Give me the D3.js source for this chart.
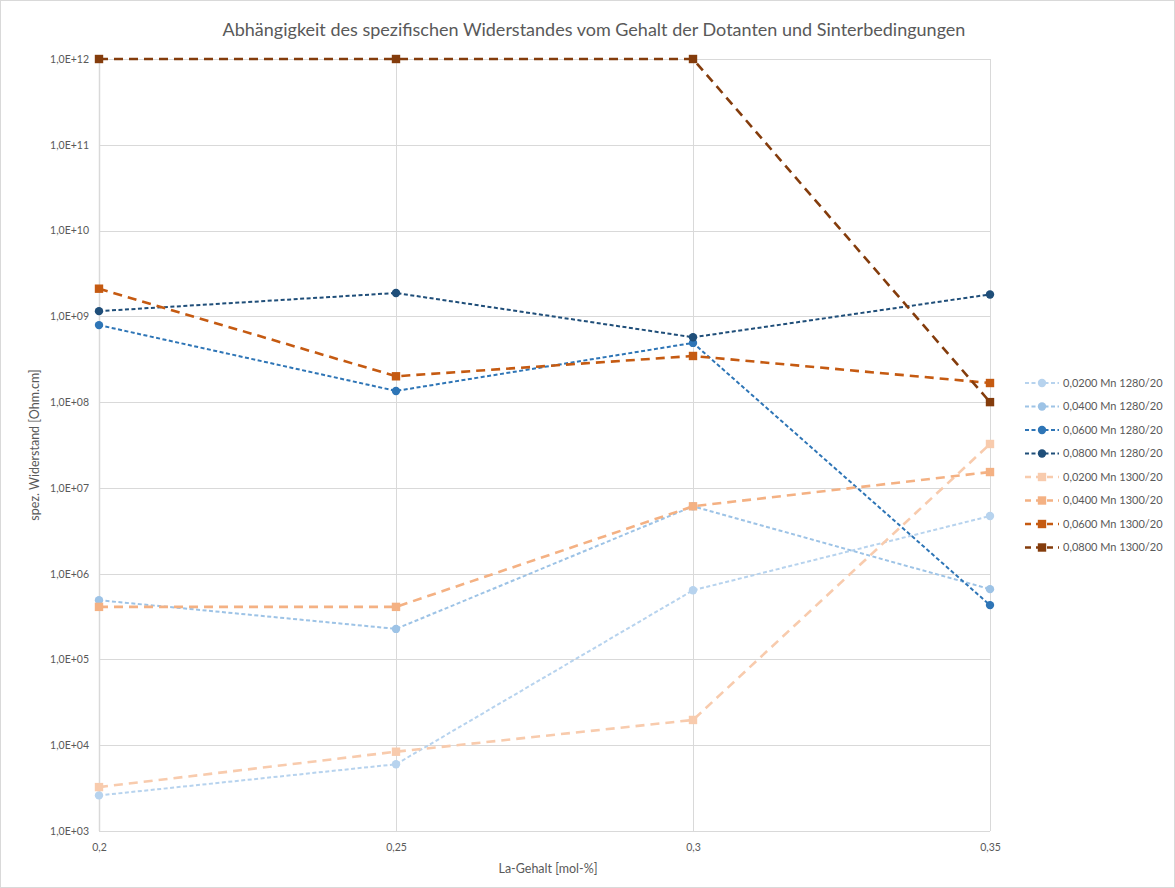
<!DOCTYPE html>
<html>
<head>
<meta charset="utf-8">
<script src="https://cdn.jsdelivr.net/npm/d3@7"></script>
<style>
  html, body { margin: 0; padding: 0; background: #fff; }
  svg { display: block; font-family: Lato, "Open Sans", sans-serif; }
</style>
</head>
<body>
<svg id="chart" width="1175" height="888"></svg>
<script>
// La content (mol-%) on the x axis
const laContent = [0.2, 0.25, 0.3, 0.35];
const xTickLabels = ["0,2", "0,25", "0,3", "0,35"];
const yTickValues = [1e3, 1e4, 1e5, 1e6, 1e7, 1e8, 1e9, 1e10, 1e11, 1e12];
const yTickLabels = ["1,0E+03", "1,0E+04", "1,0E+05", "1,0E+06", "1,0E+07", "1,0E+08", "1,0E+09", "1,0E+10", "1,0E+11", "1,0E+12"];

// specific resistance [Ohm.cm] per series
const mn0200_1280 = [2.6e3, 6.0e3, 6.4e5, 4.7e6];
const mn0400_1280 = [4.9e5, 2.27e5, 6.1e6, 6.6e5];
const mn0600_1280 = [7.9e8, 1.35e8, 4.9e8, 4.3e5];
const mn0800_1280 = [1.15e9, 1.87e9, 5.7e8, 1.8e9];
const mn0200_1300 = [3.25e3, 8.4e3, 1.97e4, 3.25e7];
const mn0400_1300 = [4.1e5, 4.1e5, 6.1e6, 1.53e7];
const mn0600_1300 = [2.1e9, 2.0e8, 3.45e8, 1.67e8];
const mn0800_1300 = [1e12, 1e12, 1e12, 1e8];

const seriesNames = [
  "0,0200 Mn 1280/20", "0,0400 Mn 1280/20", "0,0600 Mn 1280/20", "0,0800 Mn 1280/20",
  "0,0200 Mn 1300/20", "0,0400 Mn 1300/20", "0,0600 Mn 1300/20", "0,0800 Mn 1300/20"
];
const seriesValues = [mn0200_1280, mn0400_1280, mn0600_1280, mn0800_1280,
                      mn0200_1300, mn0400_1300, mn0600_1300, mn0800_1300];
const seriesColors = ["#b7d3ee", "#9dc3e6", "#2e75b6", "#1f4e79",
                      "#f8cbad", "#f4b183", "#c55a11", "#843c0c"];

const series = seriesNames.map((name, i) => ({
  name,
  values: seriesValues[i],
  color: seriesColors[i],
  kind: name.endsWith("1280/20") ? "circle" : "square"
}));

const svg = d3.select("#chart");
const W = 1175, H = 888;
const plot = { left: 99, right: 990, top: 59, bottom: 831 };

// outer chart frame
svg.append("rect")
  .attr("x", 0.5).attr("y", 0.5).attr("width", W - 1).attr("height", H - 1)
  .attr("fill", "#fff").attr("stroke", "#d9d9d9").attr("stroke-width", 1);

const x = d3.scaleLinear().domain([0.2, 0.35]).range([plot.left, plot.right]);
const y = d3.scaleLog().domain([1e3, 1e12]).range([plot.bottom, plot.top]);

// horizontal gridlines
svg.append("g")
  .selectAll("line").data(yTickValues).join("line")
  .attr("x1", plot.left).attr("x2", plot.right)
  .attr("y1", d => Math.round(y(d)) + 0.5).attr("y2", d => Math.round(y(d)) + 0.5)
  .attr("stroke", "#d9d9d9").attr("stroke-width", 1);

// vertical gridlines
svg.append("g")
  .selectAll("line").data(laContent).join("line")
  .attr("x1", d => Math.round(x(d)) + 0.5).attr("x2", d => Math.round(x(d)) + 0.5)
  .attr("y1", plot.top).attr("y2", plot.bottom)
  .attr("stroke", "#d9d9d9").attr("stroke-width", d => d === 0.2 ? 1.5 : 1);

// y axis labels
const yAxis = d3.axisLeft(y).tickValues(yTickValues)
  .tickFormat((d, i) => yTickLabels[i]).tickSize(0).tickPadding(10);
const gy = svg.append("g").attr("transform", `translate(${plot.left},0)`).call(yAxis);
gy.select(".domain").remove();
gy.selectAll("text").attr("fill", "#595959").style("font-size", "10.5px")
  .style("font-family", "Lato, sans-serif");

// x axis labels
const xAxis = d3.axisBottom(x).tickValues(laContent)
  .tickFormat((d, i) => xTickLabels[i]).tickSize(0).tickPadding(13);
const gx = svg.append("g").attr("transform", `translate(0,${plot.bottom})`).call(xAxis);
gx.select(".domain").remove();
gx.selectAll("text").attr("fill", "#595959").style("font-size", "10.5px")
  .style("font-family", "Lato, sans-serif");

// title and axis titles
svg.append("text")
  .attr("x", 594).attr("y", 36).attr("text-anchor", "middle")
  .attr("fill", "#595959").style("font-size", "18px")
  .text("Abhängigkeit des spezifischen Widerstandes vom Gehalt der Dotanten und Sinterbedingungen");

svg.append("text")
  .attr("x", 548).attr("y", 873).attr("text-anchor", "middle")
  .attr("fill", "#595959").style("font-size", "12.5px")
  .text("La-Gehalt [mol-%]");

svg.append("text")
  .attr("transform", "translate(39,445) rotate(-90)")
  .attr("text-anchor", "middle")
  .attr("fill", "#595959").style("font-size", "12.5px")
  .text("spez. Widerstand [Ohm.cm]");

const line = d3.line().x(d => x(d[0])).y(d => y(d[1]));

function dashFor(s) { return s.kind === "circle" ? "4,2.5" : "9,6"; }
function widthFor(s) { return s.kind === "circle" ? 2 : 2.6; }

function drawMarker(g, s, cx, cy) {
  if (s.kind === "circle") {
    g.append("circle").attr("cx", cx).attr("cy", cy).attr("r", 4.2).attr("fill", s.color);
  } else {
    g.append("rect").attr("x", cx - 4.2).attr("y", cy - 4.2)
      .attr("width", 8.4).attr("height", 8.4).attr("fill", s.color);
  }
}

// series lines and markers
const gs = svg.append("g");
series.forEach(s => {
  const pts = laContent.map((v, i) => [v, s.values[i]]);
  gs.append("path").datum(pts).attr("d", line)
    .attr("fill", "none").attr("stroke", s.color)
    .attr("stroke-width", widthFor(s)).attr("stroke-dasharray", dashFor(s));
  const gm = gs.append("g");
  pts.forEach(p => drawMarker(gm, s, x(p[0]), y(p[1])));
});

// legend
const legend = svg.append("g").attr("transform", "translate(1025,383)");
series.forEach((s, i) => {
  const row = legend.append("g").attr("transform", `translate(0,${i * 23.5})`);
  row.append("line").attr("x1", 0).attr("x2", 34).attr("y1", 0).attr("y2", 0)
    .attr("stroke", s.color).attr("stroke-width", widthFor(s))
    .attr("stroke-dasharray", s.kind === "circle" ? "4,2.5" : "6,5");
  drawMarker(row, s, 17, 0);
  row.append("text").attr("x", 38).attr("y", 0).attr("dy", "0.35em")
    .attr("fill", "#595959").style("font-size", "11px").text(s.name);
});
</script>
</body>
</html>
